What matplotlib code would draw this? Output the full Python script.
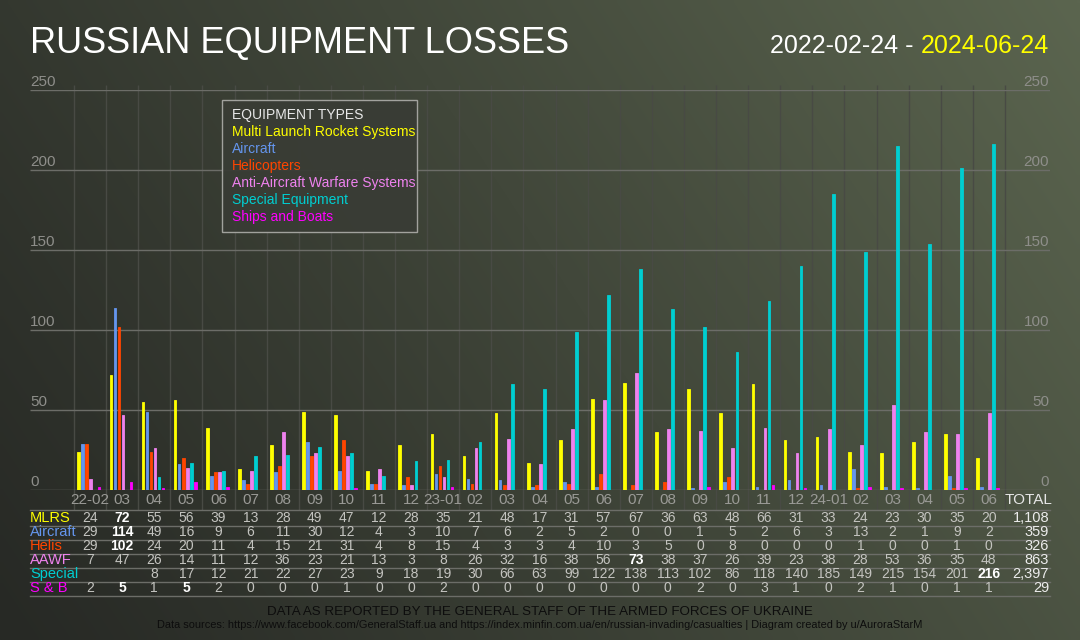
import numpy as np
import matplotlib
matplotlib.use("Agg")
import matplotlib.pyplot as plt
from matplotlib.transforms import blended_transform_factory
from matplotlib.patches import Rectangle

months = ["22-02", "03", "04", "05", "06", "07", "08", "09", "10", "11", "12",
          "23-01", "02", "03", "04", "05", "06", "07", "08", "09", "10", "11", "12",
          "24-01", "02", "03", "04", "05", "06"]

mlrs = [24, 72, 55, 56, 39, 13, 28, 49, 47, 12, 28,
        35, 21, 48, 17, 31, 57, 67, 36, 63, 48, 66, 31,
        33, 24, 23, 30, 35, 20]
aircraft = [29, 114, 49, 16, 9, 6, 11, 30, 12, 4, 3,
            10, 7, 6, 2, 5, 2, 0, 0, 1, 5, 2, 6,
            3, 13, 2, 1, 9, 2]
helis = [29, 102, 24, 20, 11, 4, 15, 21, 31, 4, 8,
         15, 4, 3, 3, 4, 10, 3, 5, 0, 8, 0, 0,
         0, 1, 0, 0, 1, 0]
aawf = [7, 47, 26, 14, 11, 12, 36, 23, 21, 13, 3,
        8, 26, 32, 16, 38, 56, 73, 38, 37, 26, 39, 23,
        38, 28, 53, 36, 35, 48]
special = [None, None, 8, 17, 12, 21, 22, 27, 23, 9, 18,
           19, 30, 66, 63, 99, 122, 138, 113, 102, 86, 118, 140,
           185, 149, 215, 154, 201, 216]
ships = [2, 5, 1, 5, 2, 0, 0, 0, 1, 0, 0,
         2, 0, 0, 0, 0, 0, 0, 0, 2, 0, 3, 1,
         0, 2, 1, 0, 1, 1]

totals = ["1,108", "359", "326", "863", "2,397", "29"]

series_names = ["Multi Launch Rocket Systems", "Aircraft", "Helicopters",
                "Anti-Aircraft Warfare Systems", "Special Equipment", "Ships and Boats"]
row_labels = ["MLRS", "Aircraft", "Helis", "AAWF", "Special", "S & B"]
colors = ["#ffff00", "#6495ed", "#ff4500", "#ee82ee", "#00ced1", "#ff00ff"]
series = [mlrs, aircraft, helis, aawf, special, ships]
yticks = [0, 50, 100, 150, 200, 250]

plt.rcParams['font.family'] = ['Liberation Sans', 'DejaVu Sans']

W, H = 1080, 640
fig = plt.figure(figsize=(W / 100, H / 100), dpi=100)

# background gradient
bg = fig.add_axes([0, 0, 1, 1], zorder=-10)
bg.axis("off")
gx = np.linspace(0, 1, 216)
gy = np.linspace(0, 1, 128)
X, Y = np.meshgrid(gx, gy)
t = np.clip(0.72 * X + 0.28 * Y, 0, 1) ** 1.1
c0 = np.array([0x27, 0x29, 0x25]) / 255
c1 = np.array([0x5b, 0x65, 0x4f]) / 255
img = c0[None, None, :] * (1 - t[..., None]) + c1[None, None, :] * t[..., None]
bg.imshow(img, origin="lower", aspect="auto", extent=[0, 1, 0, 1], interpolation="bilinear")
bg.set_xlim(0, 1)
bg.set_ylim(0, 1)

def fy(px):
    return 1 - px / H

col_left_px = 74.0
col_w_px = 32.1
x_lo = (30 - col_left_px) / col_w_px
x_hi = (1050 - col_left_px) / col_w_px

ax = fig.add_axes([30 / W, fy(490), 1020 / W, 400 / H])
ax.set_xlim(x_lo, x_hi)
ax.set_ylim(0, 250)
ax.axis("off")
ax.patch.set_alpha(0)

tr = blended_transform_factory(ax.transData, fig.transFigure)

n = len(months)
# vertical separators
ax.vlines(np.arange(n + 1), fy(510), fy(85), transform=tr, colors="#484a44",
          linewidth=1, zorder=1, clip_on=False)
# horizontal gridlines
ax.hlines(yticks, x_lo, x_hi, colors="#6c6d68", linewidth=1, zorder=1)

# bars
xs = np.arange(n)
bw = 0.085
for k, (vals, c) in enumerate(zip(series, colors)):
    v = np.array([np.nan if a is None else a for a in vals], dtype=float)
    ax.bar(xs + 0.15 + k * 0.125, v, width=bw, color=c, edgecolor=c,
           linewidth=0.6, align="center", zorder=3)

# y tick labels
for yv in yticks:
    ypx = 490 - yv * 1.6
    fig.text(30 / W, fy(ypx - 1), str(yv), color="#8e8e8a", fontsize=11,
             ha="left", va="bottom")
    fig.text(1049 / W, fy(ypx - 1), str(yv), color="#8e8e8a", fontsize=11,
             ha="right", va="bottom")

# month labels
for i, m in enumerate(months):
    ax.text(i + 0.5, fy(500), m, transform=tr, ha="center", va="center",
            color="#9a9a96", fontsize=11, clip_on=False)
ax.text(n + 0.5 + 0.25, fy(500), "TOTAL", transform=tr, ha="center", va="center",
        color="#e6e6e6", fontsize=11, clip_on=False)

# table lines
for ypx in [510, 525.5, 539.5, 553.5, 567.5, 581.5, 595.5]:
    ax.plot([x_lo, x_hi], [fy(ypx), fy(ypx)], transform=tr, color="#6c6d68",
            linewidth=1, clip_on=False, zorder=1)

# table rows
row_y = [518, 532, 546, 560, 574, 588]
for r, (lab, vals, c) in enumerate(zip(row_labels, series, colors)):
    ypx = row_y[r]
    fig.text(30 / W, fy(ypx), lab, color=c, fontsize=10.5, ha="left", va="center")
    vmax = max(a for a in vals if a is not None)
    for i, a in enumerate(vals):
        if a is None:
            continue
        bold = (a == vmax)
        ax.text(i + 0.5, fy(ypx), str(a), transform=tr, ha="center", va="center",
                color="#ffffff" if bold else "#c4c4c0",
                fontweight="bold" if bold else "normal", fontsize=10, clip_on=False)
    fig.text(1049 / W, fy(ypx), totals[r], color="#ececec", fontsize=10.5,
             ha="right", va="center")

# title
fig.text(30 / W, fy(44), "RUSSIAN EQUIPMENT LOSSES", color="white", fontsize=26,
         ha="left", va="center")
t2 = fig.text(1049 / W, fy(46), "2024-06-24", color="#ffff00", fontsize=18,
              ha="right", va="center")
fig.canvas.draw()
bb = t2.get_window_extent()
fig.text(bb.x0 / W, fy(46), "2022-02-24 - ", color="white", fontsize=18,
         ha="right", va="center")

# legend box
fig.patches.append(Rectangle((222 / W, fy(232)), (417 - 222) / W, (232 - 100) / H,
                             transform=fig.transFigure, facecolor="#393c35",
                             edgecolor="#a8a8a4", linewidth=1, alpha=0.95, zorder=5))
fig.text(232 / W, fy(115), "EQUIPMENT TYPES", color="#e8e8e8", fontsize=10,
         ha="left", va="center", zorder=6)
for k, (name, c) in enumerate(zip(series_names, colors)):
    fig.text(232 / W, fy(132 + 17 * k), name, color=c, fontsize=10,
             ha="left", va="center", zorder=6)

# footer
fig.text(540 / W, fy(612), "DATA AS REPORTED BY THE GENERAL STAFF OF THE ARMED FORCES OF UKRAINE",
         color="#0d0d0d", fontsize=9.6, ha="center", va="center")
fig.text(540 / W, fy(625),
         "Data sources: https://www.facebook.com/GeneralStaff.ua and https://index.minfin.com.ua/en/russian-invading/casualties | Diagram created by u/AuroraStarM",
         color="#0d0d0d", fontsize=7.9, ha="center", va="center")

fig.savefig("out.png", dpi=100)
